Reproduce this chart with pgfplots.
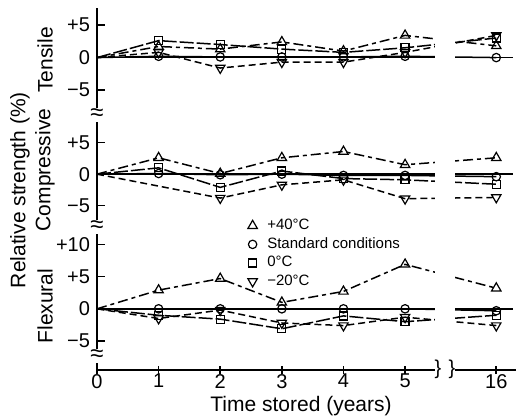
\documentclass[border=0pt]{standalone}
\usepackage{fontspec}
\setmainfont{Liberation Sans}
\usepackage{pgfplots}
\pgfplotsset{compat=1.18}

% year 16 is drawn at x=6.48, past the break in the time axis
\pgfplotsset{
  panel/.style={
    scale only axis, width=209.5pt, xmin=0, xmax=6.8,
    axis y line=left,
    y axis line style={-, line width=0.8pt},
    tick align=inside, major tick length=4pt,
    tick style={line width=0.8pt, black},
    yticklabel style={font=\fontsize{10}{12}\selectfont},
    clip=false,
  },
  top panel/.style={panel, axis x line=none, xtick=\empty},
  zero/.style={black, line width=0.7pt, no marks, forget plot},
  s40/.style={black, line width=0.75pt, dash pattern=on 5pt off 2pt on 2pt off 2pt,
    mark=triangle, mark size=2.7pt, mark indices={2,3,4,5,6,7},
    mark options={solid, fill=white, line width=0.6pt}},
  sstd/.style={black, line width=0.75pt, mark=o, mark size=2.1pt, mark indices={2,3,4,5,6,7},
    mark options={solid, fill=white, line width=0.6pt}},
  s0/.style={black, line width=0.75pt, dash pattern=on 7pt off 1.5pt,
    mark=square, mark size=2pt, mark indices={2,3,4,5,6,7},
    mark options={solid, fill=white, line width=0.6pt}},
  sm20/.style={black, line width=0.75pt, dash pattern=on 3.5pt off 2pt,
    mark=triangle, mark size=2.7pt, mark indices={2,3,4,5,6,7},
    mark options={solid, fill=white, rotate=180, line width=0.6pt}},
}

\newcommand{\gap}{\fill[white] (rel axis cs:0.807,0) rectangle (rel axis cs:0.855,1);}

\begin{document}
\begin{tikzpicture}
\useasboundingbox (0,0) rectangle (264.5pt,-209.5pt);

% Tensile
\begin{axis}[top panel, at={(48.5pt,-4pt)}, anchor=north west, height=53.5pt,
  ymin=-8.8, ymax=7.6, ytick={-5,0,5}, yticklabels={−5,0,+5}]
  \addplot[zero] coordinates {(0,0) (6.75,0)};
  \addplot[sm20] coordinates {(0,0) (1,0.8) (2,-1.6) (3,-0.7) (4,-0.7) (5,0.8) (6.48,3.4)};
  \addplot[s0] coordinates {(0,0) (1,2.6) (2,2.0) (3,1.3) (4,0.8) (5,1.5) (6.48,3.0)};
  \addplot[s40] coordinates {(0,0) (1,1.7) (2,1.3) (3,2.4) (4,1.0) (5,3.4) (6.48,1.8)};
  \addplot[sstd] coordinates {(0,0) (1,0.2) (2,0.1) (3,0.1) (4,0.1) (5,0.2) (6.48,0)};
  \gap
\end{axis}

% Compressive
\begin{axis}[top panel, at={(48.5pt,-57.5pt)}, anchor=north west, height=56pt,
  ymin=-8.4, ymax=9.4, ytick={-5,0,5}, yticklabels={−5,0,+5}]
  \addplot[zero] coordinates {(0,0) (6.75,0)};
  \addplot[sm20] coordinates {(0,0) (2,-3.8) (3,-1.7) (4,-0.9) (5,-3.9) (6.48,-3.7)};
  \addplot[s0] coordinates {(0,0) (1,1.0) (2,-2.1) (3,0.5) (4,-0.7) (5,-0.9) (6.48,-1.6)};
  \addplot[s40] coordinates {(0,0) (1,2.6) (2,0.1) (3,2.6) (4,3.6) (5,1.5) (6.48,2.6)};
  \addplot[sstd] coordinates {(0,0) (1,0.1) (2,-0.1) (3,0) (4,-0.2) (5,-0.2) (6.48,-0.4)};
  \gap
\end{axis}

% Flexural
\begin{axis}[panel, at={(48.5pt,-113.5pt)}, anchor=north west, height=71.5pt,
  ymin=-9.5, ymax=12.7, ytick={-5,0,5,10}, yticklabels={−5,0,+5,+10},
  axis x line=bottom, x axis line style={-, line width=0.8pt},
  xtick={0,1,2,3,4,5,6.48}, xticklabels={0,1,2,3,4,5,16},
  xticklabel style={font=\fontsize{10}{12}\selectfont, yshift=3.5pt},
  legend style={at={(rel axis cs:0.345,1.115)}, anchor=north west, draw=none, fill=none,
    font=\fontsize{7.5}{8}\selectfont, row sep=-1.5pt,
    /tikz/every odd column/.append style={column sep=3pt}},
  legend cell align=left]
  \addplot[zero] coordinates {(0,0) (6.75,0)};
  \addplot[sm20, forget plot] coordinates {(0,0) (1,-1.5) (2,-0.2) (3,-2.2) (4,-2.6) (5,-1.3) (6.48,-2.6)};
  \addplot[s0, forget plot] coordinates {(0,0) (1,-1.0) (2,-1.6) (3,-3.1) (4,-1.1) (5,-2.0) (6.48,-1.0)};
  \addplot[s40, forget plot] coordinates {(0,0) (1,2.9) (2,4.7) (3,1.0) (4,2.7) (5,6.9) (6.48,3.2)};
  \addplot[sstd, forget plot] coordinates {(0,0) (1,0) (2,0) (3,0) (4,0) (5,0) (6.48,-0.3)};
  \addlegendimage{s40, only marks, mark indices={}}
  \addlegendentry{+40°C}
  \addlegendimage{sstd, only marks, mark indices={}}
  \addlegendentry{Standard conditions}
  \addlegendimage{s0, only marks, mark indices={}}
  \addlegendentry{0°C}
  \addlegendimage{sm20, only marks, mark indices={}}
  \addlegendentry{−20°C}
  \fill[white] (rel axis cs:0.807,-0.02) rectangle (rel axis cs:0.855,1);
\end{axis}

% breaks on the axes
\foreach \y in {-57.5pt,-113.5pt,-178pt}
  \node[fill=white, inner sep=0.3pt, font=\fontsize{12}{12}\selectfont] at (48.5pt,\y) {≈};
\foreach \x in {219pt,226pt}
  \node[inner sep=0pt, font=\fontsize{10}{10}\selectfont] at (\x,-184.5pt) {\}};

% labels
\node[rotate=90, font=\fontsize{10.5}{12}\selectfont] at (10pt,-95pt) {Relative strength (\%)};
\node[rotate=90, font=\fontsize{10.5}{12}\selectfont] at (22.5pt,-30pt) {Tensile};
\node[rotate=90, font=\fontsize{10.5}{12}\selectfont] at (22.5pt,-85pt) {Compressive};
\node[rotate=90, font=\fontsize{10.5}{12}\selectfont] at (22.5pt,-153pt) {Flexural};
\node[font=\fontsize{10.5}{12}\selectfont] at (150.5pt,-203pt) {Time stored (years)};
\end{tikzpicture}
\end{document}
